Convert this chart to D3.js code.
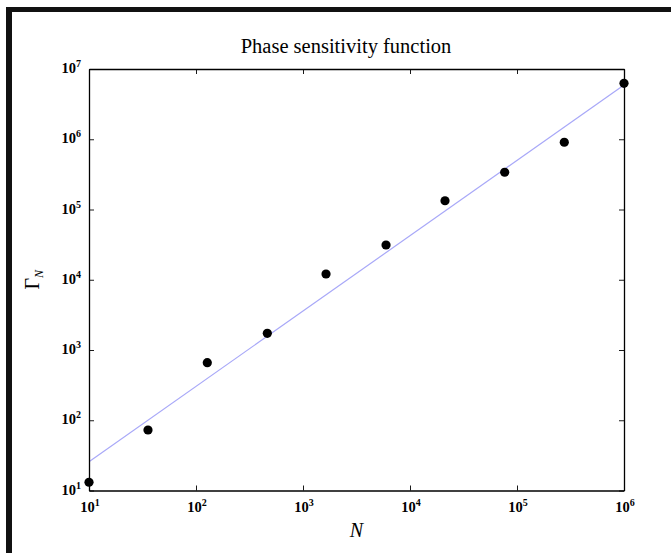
<!DOCTYPE html>
<html>
<head>
<meta charset="utf-8">
<script src="https://cdn.jsdelivr.net/npm/d3@7"></script>
<style>
  html, body { margin: 0; padding: 0; background: #fff; }
  svg { display: block; }
  text { font-family: "Liberation Serif", "DejaVu Serif", serif; fill: #000; }
</style>
</head>
<body>
<svg id="chart" width="671" height="553"></svg>
<script>
// ---- data ----
const N_values     = [10, 35.6, 127.5, 464, 1641, 5970, 21240, 76700, 276700, 1000000];
const gamma_values = [13.1, 72.7, 659, 1729, 12080, 31260, 133300, 339000, 906000, 6250000];
const fit_N        = [10, 1000000];
const fit_gamma    = [25.7, 5920000];
const x_tick_exps  = [1, 2, 3, 4, 5, 6];
const y_tick_exps  = [1, 2, 3, 4, 5, 6, 7];
const title_text   = "Phase sensitivity function";

// ---- layout ----
const W = 671, H = 553;
const plot = { left: 89, right: 624, top: 69, bottom: 490.5 };
const svg = d3.select("#chart");

// frame border (black bars from the screenshot)
svg.append("rect").attr("x", 6).attr("y", 7).attr("width", W - 6).attr("height", 5).attr("fill", "#111");
svg.append("rect").attr("x", 6).attr("y", 7).attr("width", 6).attr("height", H - 7).attr("fill", "#111");

const x = d3.scaleLog().domain([1e1, 1e6]).range([plot.left, plot.right]);
const y = d3.scaleLog().domain([1e1, 1e7]).range([plot.bottom, plot.top]);

// fit line
const clipId = "clipPlot";
svg.append("clipPath").attr("id", clipId).append("rect")
  .attr("x", plot.left).attr("y", plot.top)
  .attr("width", plot.right - plot.left).attr("height", plot.bottom - plot.top);

const lineData = fit_N.map((n, i) => [n, fit_gamma[i]]);
svg.append("path")
  .datum(lineData)
  .attr("clip-path", `url(#${clipId})`)
  .attr("fill", "none")
  .attr("stroke", "#a8a8f8")
  .attr("stroke-width", 1.2)
  .attr("d", d3.line().x(d => x(d[0])).y(d => y(d[1])));

// axes with inward ticks on all sides
const tickLen = 5;
const xTicks = x_tick_exps.map(e => Math.pow(10, e));
const yTicks = y_tick_exps.map(e => Math.pow(10, e));

const axB = svg.append("g").attr("transform", `translate(0,${plot.bottom})`)
  .call(d3.axisBottom(x).tickValues(xTicks).tickSizeInner(-tickLen).tickSizeOuter(0).tickFormat(""));
const axT = svg.append("g").attr("transform", `translate(0,${plot.top})`)
  .call(d3.axisTop(x).tickValues(xTicks).tickSizeInner(-tickLen).tickSizeOuter(0).tickFormat(""));
const axL = svg.append("g").attr("transform", `translate(${plot.left},0)`)
  .call(d3.axisLeft(y).tickValues(yTicks).tickSizeInner(-tickLen).tickSizeOuter(0).tickFormat(""));
const axR = svg.append("g").attr("transform", `translate(${plot.right},0)`)
  .call(d3.axisRight(y).tickValues(yTicks).tickSizeInner(-tickLen).tickSizeOuter(0).tickFormat(""));
[axB, axT, axL, axR].forEach(g => {
  g.select(".domain").attr("stroke", "#000").attr("stroke-width", 1.3);
  g.selectAll(".tick line").attr("stroke", "#000").attr("stroke-width", 0.9);
});

// tick labels: 10 with superscript exponent
const labelSize = 14.5, supSize = 10;
x_tick_exps.forEach(e => {
  const t = svg.append("text")
    .attr("x", x(Math.pow(10, e)) + 1)
    .attr("y", plot.bottom + 21)
    .attr("text-anchor", "middle")
    .attr("font-size", labelSize)
    .attr("font-weight", "bold");
  t.append("tspan").text("10");
  t.append("tspan").attr("font-size", supSize).attr("dy", -6).text(String(e));
});
y_tick_exps.forEach(e => {
  const t = svg.append("text")
    .attr("x", plot.left - 8)
    .attr("y", y(Math.pow(10, e)) + 4)
    .attr("text-anchor", "end")
    .attr("font-size", labelSize)
    .attr("font-weight", "bold");
  t.append("tspan").text("10");
  t.append("tspan").attr("font-size", supSize).attr("dy", -6).text(String(e));
});

// points
svg.append("g").selectAll("circle")
  .data(N_values.map((n, i) => [n, gamma_values[i]]))
  .join("circle")
  .attr("cx", d => x(d[0]))
  .attr("cy", d => y(d[1]))
  .attr("r", 4.6)
  .attr("fill", "#000");

// title
svg.append("text")
  .attr("x", 346)
  .attr("y", 53)
  .attr("text-anchor", "middle")
  .attr("font-size", 20.5)
  .text(title_text);

// x label
svg.append("text")
  .attr("x", (plot.left + plot.right) / 2)
  .attr("y", 537)
  .attr("text-anchor", "middle")
  .attr("font-size", 20)
  .attr("font-style", "italic")
  .text("N");

// y label Γ_N
const yl = svg.append("text")
  .attr("transform", `translate(39,${(plot.top + plot.bottom) / 2}) rotate(-90)`)
  .attr("text-anchor", "middle")
  .attr("font-size", 20);
yl.append("tspan").text("Γ");
yl.append("tspan").attr("font-size", 12).attr("font-style", "italic").attr("dy", 4).text("N");
</script>
</body>
</html>
